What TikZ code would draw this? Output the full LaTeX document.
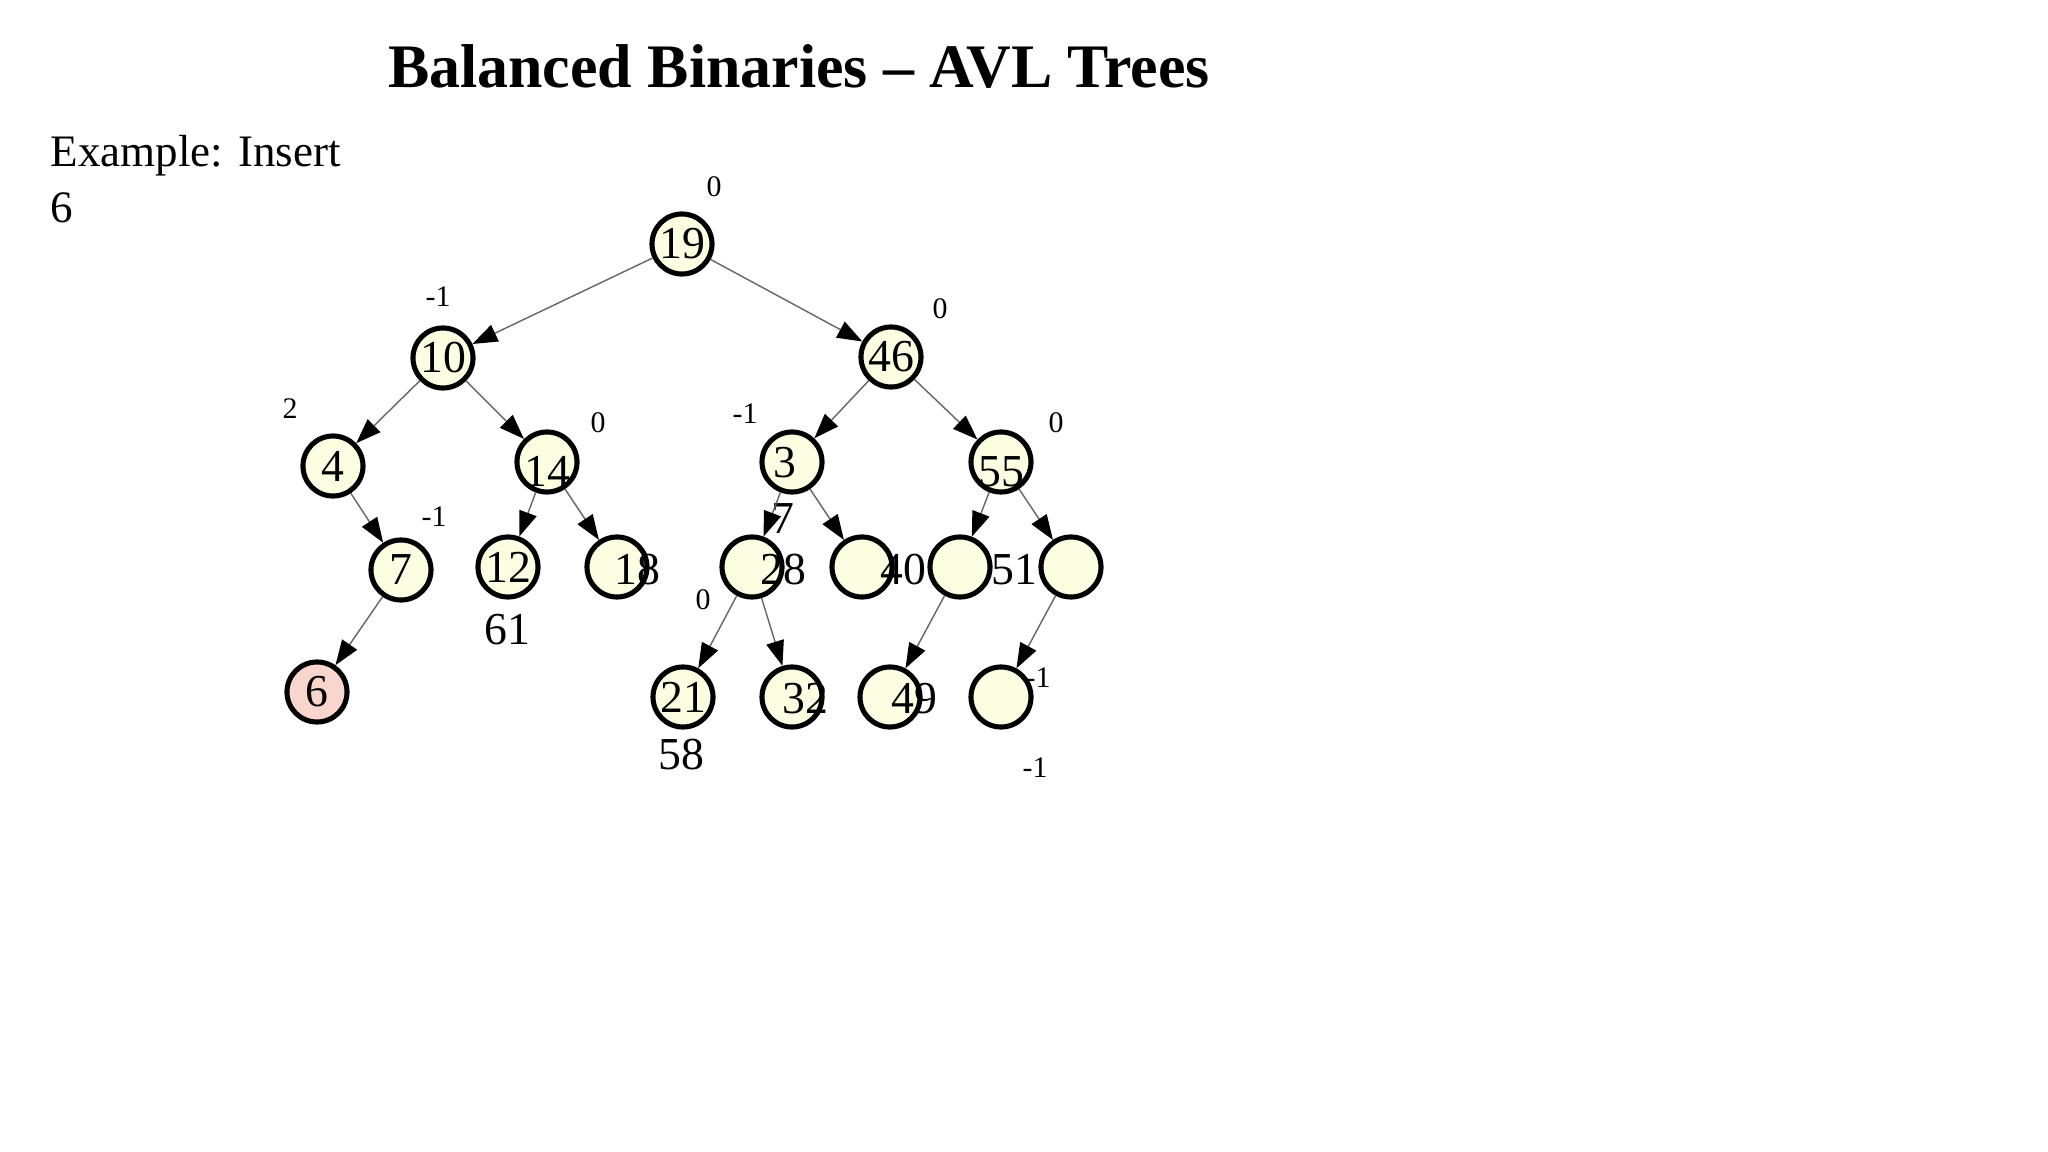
\documentclass[tikz,border=0pt]{standalone}
\usepackage{fontspec}
\setmainfont{Liberation Serif}
\usetikzlibrary{arrows.meta}
\definecolor{keyfill}{RGB}{253,253,226}
\definecolor{newfill}{RGB}{248,214,206}
\newcommand{\keyfont}{\fontsize{13}{15}\selectfont}
\newcommand{\balfont}{\fontsize{8.5}{10}\selectfont}

\begin{document}
\begin{tikzpicture}[x=0.01cm,y=-0.01cm,
  key/.style={circle,draw,line width=1.45pt,fill=keyfill,minimum size=0.6cm,inner sep=0pt,font=\keyfont},
  newkey/.style={key,fill=newfill},
  num/.style={inner sep=0pt,font=\keyfont},
  bal/.style={inner sep=0pt,font=\balfont},
  line/.style={draw=black!60,line width=0.4pt,-{Triangle[length=0.25cm,width=0.18cm,color=black]}}]
\path[use as bounding box,fill=white] (0,0) rectangle (2048,1152);
\node[inner sep=0pt,anchor=base,font=\fontsize{17.6}{20}\selectfont\bfseries] (title) at (799,88) {Balanced Binaries -- AVL Trees};
\node[inner sep=0pt,anchor=base west,align=left,font=\fontsize{12.8}{16}\selectfont] (ex) at (50,167) {Example: Insert};
\node[inner sep=0pt,anchor=base west,font=\fontsize{12.8}{16}\selectfont] (ins) at (50,223) {6};
% balance factors
\node[bal] (b19) at (714,187) {0};
\node[bal] (b10) at (438,297) {-1};
\node[bal] (b46) at (940,309) {0};
\node[bal] (b4) at (290,409) {2};
\node[bal] (b14) at (598,423) {0};
\node[bal] (b3) at (745,414) {-1};
\node[bal] (b55) at (1056,423) {0};
\node[bal] (b7) at (434,517) {-1};
\node[bal] (b28) at (703,600) {0};
\node[bal] (bx) at (1038,678) {-1};
\node[bal] (by) at (1035,768) {-1};
% keys
\node[key] (n19) at (682,244) {19};
\node[key] (n10) at (443,358) {10};
\node[key] (n46) at (891,357) {46};
\node[key] (n4) at (333,466) {4};
\node[key] (n14) at (547,462) {};
\node[key] (n3) at (792,462) {};
\node[key] (n55) at (1001,462) {};
\node[key] (n7) at (401,570) {7};
\node[key] (n12) at (508,567) {12};
\node[key] (n18) at (617,567) {};
\node[key] (n28) at (752,567) {};
\node[key] (n40) at (862,567) {};
\node[key] (n51) at (960,567) {};
\node[key] (nr) at (1071,567) {};
\node[newkey] (n6) at (317,692) {6};
\node[key] (n21) at (683,697) {21};
\node[key] (n32) at (792,697) {};
\node[key] (n49) at (890,697) {};
\node[key] (nb) at (1001,697) {};
% loose key texts
\node[num] (t14) at (547,471) {14};
\node[num] (t3) at (785,463) {3};
\node[num] (t55) at (1001,472) {55};
\node[num] (t18) at (637,570) {18};
\node[num] (t28) at (783,570) {28};
\node[num] (t40) at (903,570) {40};
\node[num] (t51) at (1014,570) {51};
\node[num] (t32) at (805,699) {32};
\node[num] (t49) at (914,699) {49};
\node[num] (t7) at (783,519) {7};
\node[num] (t61) at (507,630) {61};
\node[num] (t58) at (681,755) {58};
% edges
\draw[line] (n19)--(n10);\draw[line] (n19)--(n46);
\draw[line] (n10)--(n4);\draw[line] (n10)--(n14);
\draw[line] (n4)--(n7);\draw[line] (n7)--(n6);
\draw[line] (n14)--(n12);\draw[line] (n14)--(n18);
\draw[line] (n46)--(n3);\draw[line] (n46)--(n55);
\draw[line] (n3)--(n28);\draw[line] (n3)--(n40);
\draw[line] (n55)--(n51);\draw[line] (n55)--(nr);
\draw[line] (n28)--(n21);\draw[line] (n28)--(n32);
\draw[line] (n51)--(n49);\draw[line] (nr)--(nb);
\end{tikzpicture}
\end{document}
